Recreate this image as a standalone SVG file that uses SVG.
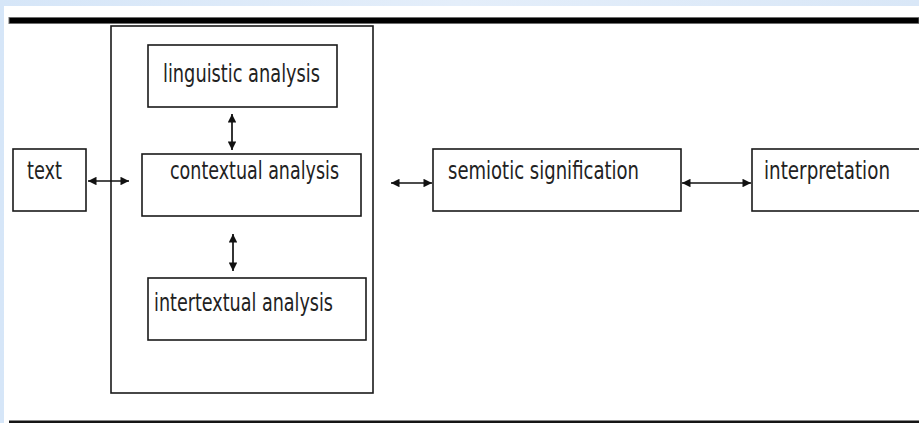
<svg xmlns="http://www.w3.org/2000/svg" width="919" height="423" viewBox="0 0 919 423">
  <style>
    .box { fill: #ffffff; stroke: #1a1a1a; stroke-width: 1.6; }
    .label { font-family: "DejaVu Sans Condensed", "Liberation Sans", sans-serif; font-size: 24px; fill: #222222; }
    .link { stroke: #111111; stroke-width: 1.7; fill: none; marker-start: url(#head); marker-end: url(#head); }
  </style>
  <defs>
    <marker id="head" viewBox="0 0 10 10" refX="10" refY="5" markerWidth="5.5" markerHeight="5" orient="auto-start-reverse" markerUnits="strokeWidth">
      <path d="M0,0 L10,5 L0,10 Z" fill="#111111"/>
    </marker>
    <linearGradient id="sky" x1="0" y1="0" x2="1" y2="0">
      <stop offset="0" stop-color="#d6e6f8"/>
      <stop offset="0.5" stop-color="#e4eefa"/>
      <stop offset="1" stop-color="#d9e7f7"/>
    </linearGradient>
  </defs>

  <!-- page background with blue margin -->
  <rect x="0" y="0" width="919" height="423" fill="url(#sky)"/>
  <rect x="4" y="6" width="915" height="417" fill="#ffffff"/>

  <!-- rules above and below the figure -->
  <rect x="9" y="17.5" width="910" height="6" fill="#000000" stroke="#6e6e6e" stroke-width="1"/>
  <rect x="9" y="420.5" width="910" height="3" fill="#151515"/>

  <!-- analysis frame -->
  <rect id="analysis-frame" class="box" x="111" y="26" width="262" height="367"/>

  <g id="text-node">
    <rect class="box" x="13" y="149" width="73" height="62"/>
    <text class="label" x="27" y="179" textLength="35" lengthAdjust="spacingAndGlyphs">text</text>
  </g>

  <g id="linguistic-node">
    <rect class="box" x="148" y="45" width="189" height="62"/>
    <text class="label" x="163" y="82" textLength="157" lengthAdjust="spacingAndGlyphs">linguistic analysis</text>
  </g>

  <g id="contextual-node">
    <rect class="box" x="142" y="154" width="219" height="62"/>
    <text class="label" x="170" y="179" textLength="169" lengthAdjust="spacingAndGlyphs">contextual analysis</text>
  </g>

  <g id="intertextual-node">
    <rect class="box" x="148" y="278" width="218" height="62"/>
    <text class="label" x="154" y="311" textLength="179" lengthAdjust="spacingAndGlyphs">intertextual analysis</text>
  </g>

  <g id="semiotic-node">
    <rect class="box" x="433" y="149" width="248" height="62"/>
    <text class="label" x="448" y="179" textLength="191" lengthAdjust="spacingAndGlyphs">semiotic signification</text>
  </g>

  <g id="interpretation-node">
    <rect class="box" x="752" y="149" width="180" height="62"/>
    <text class="label" x="764" y="179" textLength="126" lengthAdjust="spacingAndGlyphs">interpretation</text>
  </g>

  <g id="connectors">
    <line class="link" x1="88" y1="181" x2="129" y2="181"/>
    <line class="link" x1="232" y1="114" x2="232" y2="150"/>
    <line class="link" x1="233" y1="234" x2="233" y2="271"/>
    <line class="link" x1="391" y1="183" x2="432" y2="183"/>
    <line class="link" x1="682" y1="183" x2="751" y2="183"/>
  </g>
</svg>
